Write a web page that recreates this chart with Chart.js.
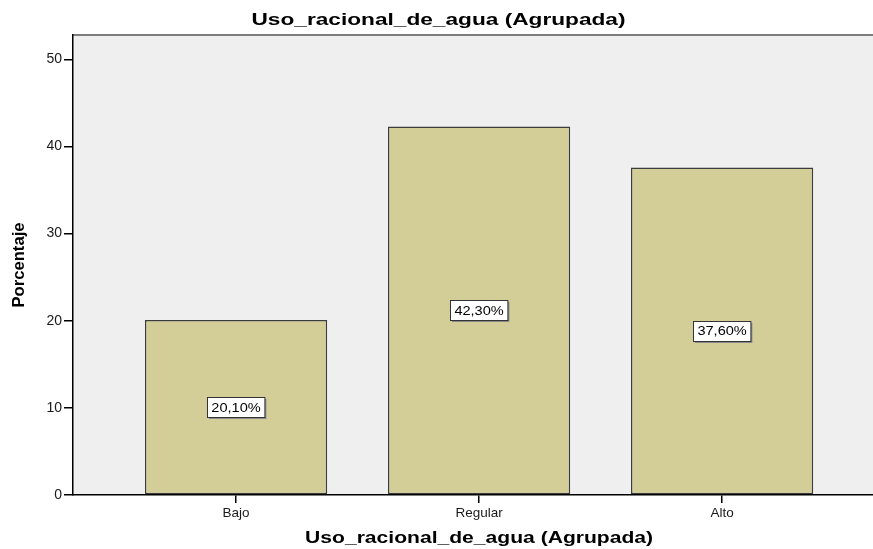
<!DOCTYPE html>
<html><head><meta charset="utf-8">
<script src="https://cdn.jsdelivr.net/npm/chart.js@4.4.0/dist/chart.umd.min.js"></script>
<style>html,body{margin:0;padding:0;background:#fff;overflow:hidden}#wrap{width:873px;height:549px}</style>
</head><body><div id="wrap"><canvas id="c" width="873" height="549" style="width:873px;height:549px"></canvas></div>
<script>
const chartTitle = 'Uso_racional_de_agua (Agrupada)';
const xAxisTitle = 'Uso_racional_de_agua (Agrupada)';
const yAxisTitle = 'Porcentaje';
const categories = ['Bajo', 'Regular', 'Alto'];
const categoryPositions = [1, 2, 3];
const percentages = [20.1, 42.3, 37.6];
const valueLabels = ['20,10%', '42,30%', '37,60%'];
const yTickValues = [0, 10, 20, 30, 40, 50];

const FONT = '"Liberation Sans", Arial, sans-serif';

function stretchedText(ctx, text, x, y, font, targetWidth, align, baseline, rotate) {
  ctx.save();
  ctx.font = font;
  const w = ctx.measureText(text).width;
  const sx = targetWidth ? targetWidth / w : 1;
  ctx.translate(x, y);
  if (rotate) ctx.rotate(rotate);
  ctx.scale(sx, 1);
  ctx.textAlign = align || 'center';
  ctx.textBaseline = baseline || 'alphabetic';
  ctx.fillStyle = '#000';
  ctx.fillText(text, 0, 0);
  ctx.restore();
}

const backgroundPlugin = {
  id: 'plotBg',
  beforeDraw(chart) {
    const {ctx, chartArea: a} = chart;
    ctx.save();
    ctx.fillStyle = '#efefef';
    ctx.fillRect(a.left, a.top, a.right - a.left, a.bottom - a.top);
    ctx.strokeStyle = '#7d7d7d';
    ctx.lineWidth = 2;
    ctx.beginPath();
    ctx.moveTo(a.left, a.top);
    ctx.lineTo(a.right, a.top);
    ctx.stroke();
    ctx.restore();
  }
};

const valueLabelPlugin = {
  id: 'valueLabels',
  afterDatasetsDraw(chart) {
    const {ctx} = chart;
    const meta = chart.getDatasetMeta(0);
    meta.data.forEach((bar, i) => {
      const text = valueLabels[i];
      const cx = bar.x;
      const cy = (bar.y + bar.base) / 2;
      ctx.save();
      ctx.font = '13px ' + FONT;
      const tw = ctx.measureText(text).width * 1.12;
      const bw = tw + 8, bh = 20;
      const x0 = Math.round(cx - bw / 2) + 0.5, y0 = Math.round(cy - bh / 2) + 0.5;
      ctx.fillStyle = '#8a8a8a';
      ctx.fillRect(x0 + 1.5, y0 + 1.5, bw, bh);
      ctx.fillStyle = '#ffffff';
      ctx.fillRect(x0, y0, bw, bh);
      ctx.strokeStyle = '#333';
      ctx.lineWidth = 1;
      ctx.strokeRect(x0, y0, bw, bh);
      ctx.restore();
      stretchedText(ctx, text, cx, cy + 1, '13px ' + FONT, tw, 'center', 'middle');
    });
  }
};

const titlePlugin = {
  id: 'titles',
  afterDraw(chart) {
    const {ctx, chartArea: a} = chart;
    const xs = chart.scales.x;
    stretchedText(ctx, chartTitle, chart.width / 2 + 2, 25, 'bold 17px ' + FONT, 374, 'center', 'alphabetic');
    stretchedText(ctx, xAxisTitle, xs.getPixelForValue(categoryPositions[1]), 543, 'bold 16px ' + FONT, 348, 'center', 'alphabetic');
    stretchedText(ctx, yAxisTitle, 20, (a.top + a.bottom) / 2, 'bold 16px ' + FONT, 85, 'center', 'middle', -Math.PI / 2);
  }
};

new Chart(document.getElementById('c'), {
  type: 'bar',
  data: {
    datasets: [{
      data: categoryPositions.map((p, i) => ({x: p, y: percentages[i]})),
      backgroundColor: '#d3ce98',
      borderColor: '#3c3c3c',
      borderWidth: 1.5,
      borderSkipped: false,
      barPercentage: 0.75,
      categoryPercentage: 1
    }]
  },
  options: {
    responsive: false,
    animation: false,
    devicePixelRatio: 1,
    layout: {padding: {top: 35, left: 0, right: 0, bottom: 0}},
    plugins: {legend: {display: false}, tooltip: {enabled: false}, title: {display: false}},
    scales: {
      x: {
        type: 'linear',
        offset: false,
        min: 0.329,
        max: 3.621,
        afterBuildTicks: s => { s.ticks = categoryPositions.map(v => ({value: v})); },
        afterFit: s => { s.height = 54; },
        grid: {display: true, offset: false, drawOnChartArea: false, drawTicks: true, tickLength: 8, color: '#000', lineWidth: 1.5},
        border: {display: true, color: '#000', width: 1.5},
        ticks: {
          callback: v => categories[categoryPositions.indexOf(v)],
          font: {family: FONT, size: 13.5},
          color: '#1a1a1a',
          padding: 2,
          maxRotation: 0,
          autoSkip: false
        }
      },
      y: {
        min: 0,
        max: 52.8,
        afterBuildTicks: s => { s.ticks = yTickValues.map(v => ({value: v})); },
        afterFit: s => { s.width = 73; },
        grid: {display: true, drawOnChartArea: false, drawTicks: true, tickLength: 9, color: '#000', lineWidth: 1.5},
        border: {display: true, color: '#000', width: 1.5},
        ticks: {
          font: {family: FONT, size: 14},
          color: '#1a1a1a',
          padding: 2
        }
      }
    }
  },
  plugins: [backgroundPlugin, valueLabelPlugin, titlePlugin]
});
</script>
</body></html>
